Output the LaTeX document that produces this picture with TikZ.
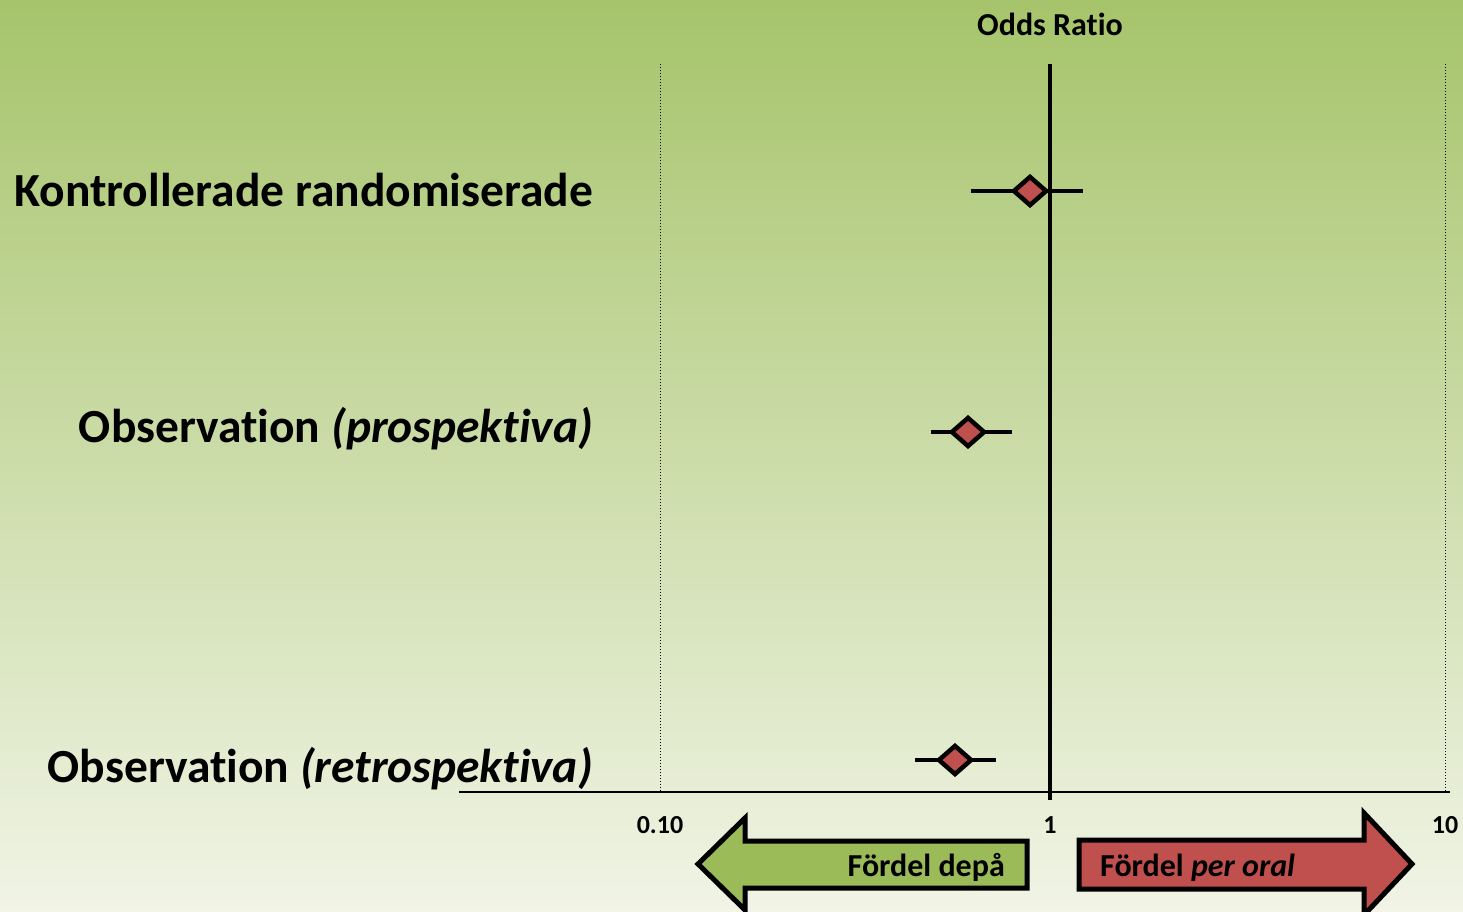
\documentclass[tikz,border=0pt]{standalone}
\usepackage{fontspec}
\setmainfont[Ligatures=NoCommon]{Carlito}
\usetikzlibrary{shapes.geometric}

\definecolor{bgtop}{RGB}{166,196,107}
\definecolor{bgbottom}{RGB}{241,244,230}
\definecolor{oddsred}{RGB}{192,80,77}
\definecolor{oddsgreen}{RGB}{155,187,89}

\tikzset{
    rowlabel/.style={anchor=base east, inner sep=0pt, font=\fontsize{47.5}{54}\selectfont\bfseries},
    ticklabel/.style={inner sep=0pt, font=\fontsize{26}{30}\selectfont\bfseries},
    estimate/.style={shape=diamond, draw, line width=4.5pt, fill=oddsred, inner sep=0pt,
        minimum width=34pt, minimum height=30pt},
    whisker/.style={line width=4.5pt},
    gridline/.style={line width=1pt, dash pattern=on 1pt off 2pt},
    favour/.style={draw, line width=5pt, line join=miter},
    favourtext/.style={inner sep=0pt, font=\fontsize{32}{36}\selectfont\bfseries},
}

\begin{document}
\begin{tikzpicture}[x=1pt, y=-1pt]
            % background
            \shade[top color=bgtop, bottom color=bgbottom] (0, 0) rectangle (1463, 912);
            \useasboundingbox (0, 0) rectangle (1463, 912);

            \node[font=\fontsize{32}{36}\selectfont\bfseries, inner sep=0pt] (title) at (1050, 24) {Odds Ratio};

            % axis and grid
            \coordinate (axisL) at (459, 792);
            \coordinate (axisR) at (1450, 792);
            \coordinate (lowtop) at (660, 64);
            \coordinate (lowbot) at (660, 792);
            \coordinate (hightop) at (1445, 64);
            \coordinate (highbot) at (1445, 792);
            \coordinate (onetop) at (1050, 64);
            \coordinate (onebot) at (1050, 800);
            \draw[gridline] (lowtop) -- (lowbot);
            \draw[gridline] (hightop) -- (highbot);
            \draw[line width=2pt] (axisL) -- (axisR);

            \node[ticklabel] (tlow) at (660, 825) {0.10};
            \node[ticklabel] (tone) at (1050, 825) {1};
            \node[ticklabel] (thigh) at (1445, 825) {10};

            % rows
            \node[rowlabel] (rct) at (593, 207) {Kontrollerade randomiserade};
            \node[rowlabel] (prosp) at (593, 442) {Observation \textit{(prospektiva)}};
            \node[rowlabel] (retro) at (593, 782) {Observation \textit{(retrospektiva)}};

            \coordinate (rctL) at (971, 191);
            \coordinate (rctR) at (1083, 191);
            \coordinate (prospL) at (931, 432);
            \coordinate (prospR) at (1012, 432);
            \coordinate (retroL) at (915, 760);
            \coordinate (retroR) at (996, 760);
            \draw[whisker] (rctL) -- (rctR);
            \draw[whisker] (prospL) -- (prospR);
            \draw[whisker] (retroL) -- (retroR);
            \node[estimate] (rctOR) at (1030, 191) {};
            \node[estimate] (prospOR) at (968, 432) {};
            \node[estimate] (retroOR) at (955, 760) {};

            \draw[line width=4.5pt] (onetop) -- (onebot);

            % favour arrows
            \draw[favour, fill=oddsgreen] (698, 864) -- (745, 818) -- (745, 841) -- (1027, 841)
                -- (1027, 888) -- (745, 888) -- (745, 910) -- cycle;
            \node[favourtext, anchor=base east] (depot) at (1005, 876) {Fördel depå};

            \draw[favour, fill=oddsred] (1079, 840) -- (1364, 840) -- (1364, 813) -- (1412, 864)
                -- (1364, 915) -- (1364, 889) -- (1079, 889) -- cycle;
            \node[favourtext, anchor=base west] (oral) at (1100, 876) {Fördel \textit{per oral}};
        \end{tikzpicture}
\end{document}
